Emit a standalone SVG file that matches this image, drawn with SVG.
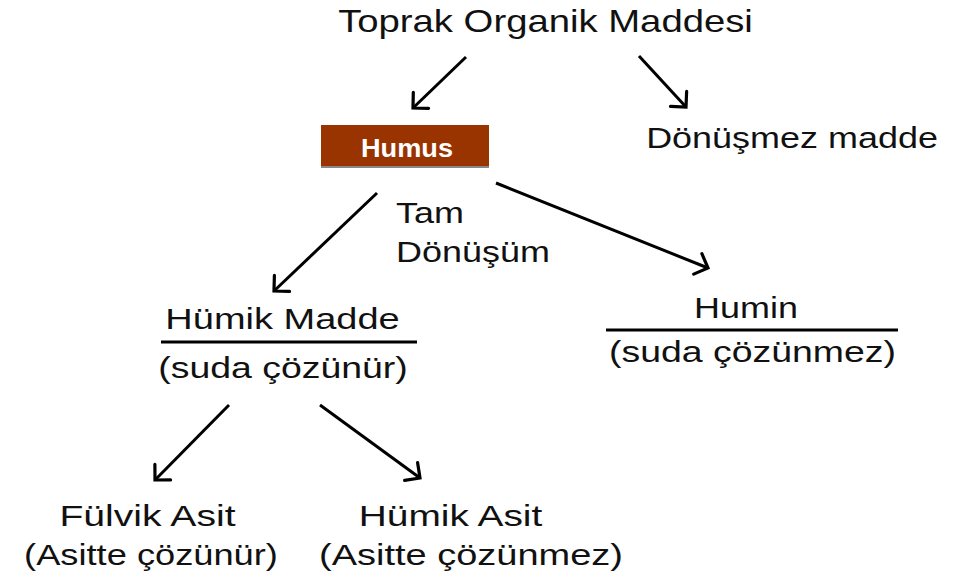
<svg xmlns="http://www.w3.org/2000/svg" width="954" height="578" viewBox="0 0 954 578">
<style>
  .t { font-family: "Liberation Sans", Arial, sans-serif; font-size: 29px; fill: #111; text-anchor: middle; }
  .ts { font-family: "Liberation Sans", Arial, sans-serif; font-size: 29px; fill: #111; }
  .c { stroke: #000; stroke-width: 3; fill: none; marker-end: url(#ah); }
  .rule { stroke: #000; stroke-width: 3; }
</style>
<defs>
  <marker id="ah" markerUnits="userSpaceOnUse" viewBox="-14 -13 16 26" refX="0" refY="0" markerWidth="16" markerHeight="26" orient="auto" overflow="visible">
    <path d="M-11,-11 L0,0 L-11,11" fill="none" stroke="#000" stroke-width="3.2" stroke-linecap="round" stroke-linejoin="miter"/>
  </marker>
</defs>
<rect width="954" height="578" fill="#fff"/>

<g id="connectors">
  <line class="c" x1="466" y1="57" x2="413" y2="108"/>
  <line class="c" x1="639" y1="56" x2="686" y2="107"/>
  <line class="c" x1="377" y1="193" x2="274" y2="291"/>
  <line class="c" x1="496" y1="183" x2="708" y2="268"/>
  <line class="c" x1="229" y1="405" x2="155" y2="480"/>
  <line class="c" x1="320" y1="405" x2="420" y2="478"/>
</g>

<g id="toprak">
  <text class="t" style="font-size:30.5px" transform="translate(545.5,32) scale(1.255,1)">Toprak Organik Maddesi</text>
</g>

<g id="humus">
  <rect x="321" y="127" width="168" height="41" fill="#888"/>
  <rect x="321" y="125" width="168" height="41" fill="#993300"/>
  <text x="407" y="157" text-anchor="middle" font-family="Liberation Sans, Arial, sans-serif" font-weight="bold" font-size="25" fill="#fff" textLength="92" lengthAdjust="spacingAndGlyphs">Humus</text>
</g>

<g id="donusmez">
  <text class="t" transform="translate(792,148) scale(1.24,1)">Dönüşmez madde</text>
</g>

<g id="tam">
  <text class="ts" transform="translate(396,223) scale(1.24,1)">Tam</text>
  <text class="ts" transform="translate(396,262) scale(1.24,1)">Dönüşüm</text>
</g>

<g id="humik-madde">
  <text class="t" transform="translate(282.5,329) scale(1.31,1)">Hümik Madde</text>
  <line class="rule" x1="161" y1="342" x2="417" y2="342"/>
  <text class="t" transform="translate(283,378) scale(1.29,1)">(suda çözünür)</text>
</g>

<g id="humin">
  <text class="t" transform="translate(746,318) scale(1.24,1)">Humin</text>
  <line class="rule" x1="606" y1="330" x2="898" y2="330"/>
  <text class="t" transform="translate(752.5,362) scale(1.29,1)">(suda çözünmez)</text>
</g>

<g id="fulvik">
  <text class="t" transform="translate(147.5,526) scale(1.35,1)">Fülvik Asit</text>
  <text class="t" transform="translate(151,565) scale(1.25,1)">(Asitte çözünür)</text>
</g>

<g id="humik-asit">
  <text class="t" transform="translate(450.5,526) scale(1.34,1)">Hümik Asit</text>
  <text class="t" transform="translate(471,565) scale(1.31,1)">(Asitte çözünmez)</text>
</g>
</svg>
